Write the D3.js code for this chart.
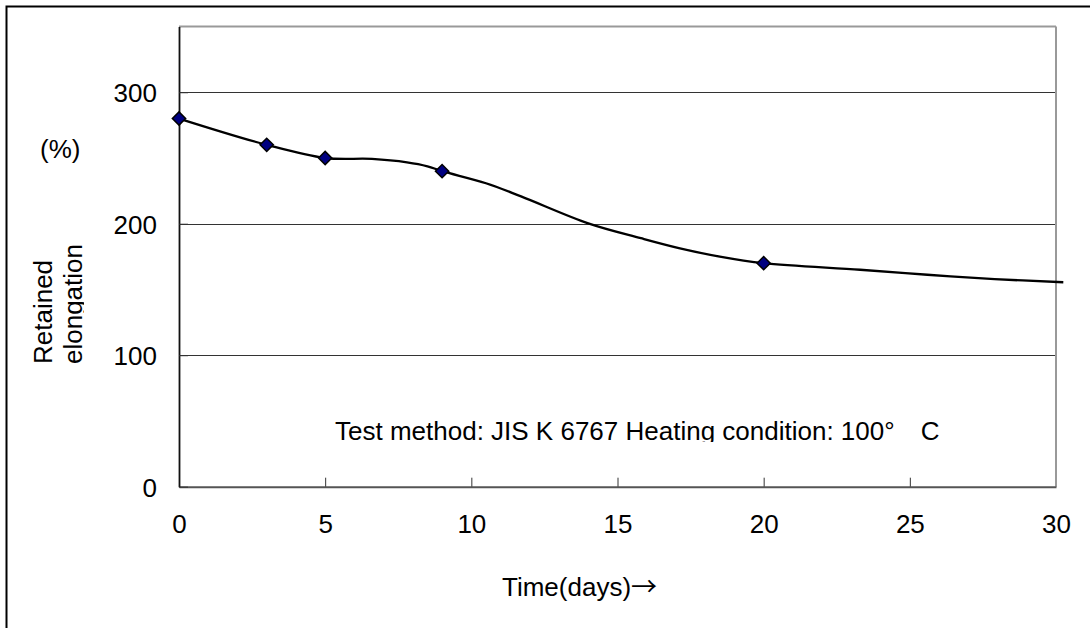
<!DOCTYPE html>
<html><head><meta charset="utf-8">
<script src="https://cdn.jsdelivr.net/npm/d3@7"></script>
<style>
html,body{margin:0;padding:0;background:#fff;}
svg{display:block;}
text{font-family:"Liberation Sans",Arial,"Noto Sans CJK JP",sans-serif;fill:#000;}
</style></head>
<body>
<svg id="chart" width="1090" height="628"></svg>
<script>
// ---- data ----
// measured points (markers)
const days = [0, 3, 5, 9, 20];
const elongation = [280, 260, 250, 240, 170];
// drawn smooth curve
const curveDays = [0, 3, 5, 6.6, 7.8, 8.5, 9, 10.5, 11.7, 14, 15.8, 17.1, 18.5, 20, 23.3, 25.6, 27.9, 30.25];
const curveValues = [280, 260, 250, 249.3, 246.7, 243.7, 240, 230.8, 220.8, 200.3, 189, 181.5, 175, 170, 165, 161.2, 157.9, 155.5];
const xTicks = [0, 5, 10, 15, 20, 25, 30];
const yTicks = [0, 100, 200, 300];
const xTitle = "Time(days)";
const xArrow = "\u2192";
const yTitleLines = ["Retained", "elongation"];
const yUnit = "(%)";
const note = "Test method: JIS K 6767 Heating condition: 100\u00B0\u3000C";

// ---- layout ----
const W = 1090, H = 628;
const L = 179, R = 1056, T = 26.5, B = 486.7;
const FS = 26;
const svg = d3.select("#chart");

const x = d3.scaleLinear().domain([0, 30]).range([L, R]);
const y = d3.scaleLinear().domain([0, 350]).range([B, T]);

// outer frame (only top and left edges fall inside the picture)
svg.append("rect").attr("x", 6.5).attr("y", 6.5).attr("width", W + 20).attr("height", H + 20)
  .attr("fill", "none").attr("stroke", "#000").attr("stroke-width", 2);

// gridlines
svg.append("g").selectAll("line").data(yTicks.filter(d => d > 0)).join("line")
  .attr("x1", L).attr("x2", R).attr("y1", d => Math.round(y(d)) + 0.5).attr("y2", d => Math.round(y(d)) + 0.5)
  .attr("stroke", "#333").attr("stroke-width", 1);

// plot top & right border (grey)
svg.append("line").attr("x1", L).attr("x2", R).attr("y1", T).attr("y2", T).attr("stroke", "#999").attr("stroke-width", 2);
svg.append("line").attr("x1", R).attr("x2", R).attr("y1", T).attr("y2", B).attr("stroke", "#999").attr("stroke-width", 2);

// x axis
const xAxis = d3.axisBottom(x).tickValues(xTicks).tickSizeInner(-9).tickSizeOuter(0).tickFormat(d3.format("d"));
const gx = svg.append("g").attr("transform", `translate(0,${B})`).call(xAxis);
gx.select(".domain").attr("stroke", "#555").attr("stroke-width", 2);
gx.selectAll(".tick line").attr("stroke", "#333").attr("stroke-width", 1)
  .attr("display", d => (d === 0 || d === 30) ? "none" : null);
gx.selectAll(".tick text").attr("font-size", FS).attr("y", 46).attr("dy", 0)
  .style("font-family", "'Liberation Sans',Arial,sans-serif");

// y axis
const yAxis = d3.axisLeft(y).tickValues(yTicks).tickSizeInner(-9).tickSizeOuter(0).tickFormat(d3.format("d"));
const gy = svg.append("g").attr("transform", `translate(${L},0)`).call(yAxis);
gy.select(".domain").attr("stroke", "#111").attr("stroke-width", 1.8);
gy.selectAll(".tick line").attr("stroke", "#333");
gy.selectAll(".tick text").attr("font-size", FS).attr("x", -22).attr("dy", "0.36em")
  .style("font-family", "'Liberation Sans',Arial,sans-serif");

// clip paths
const defs = svg.append("defs");
defs.append("clipPath").attr("id", "noteClip").append("rect")
  .attr("x", 300).attr("y", 380).attr("width", 720).attr("height", 62);
defs.append("clipPath").attr("id", "yClip").append("rect")
  .attr("x", 0).attr("y", 150).attr("width", 84).attr("height", 250);

// note text (bottom clipped as in the original)
svg.append("text").attr("clip-path", "url(#noteClip)")
  .attr("x", 335).attr("y", 440).attr("font-size", FS).text(note);

// smooth curve
const pts = curveDays.map((d, i) => [d, curveValues[i]]);
const line = d3.line().x(d => x(d[0])).y(d => y(d[1])).curve(d3.curveCatmullRom.alpha(0.5));
svg.append("path").datum(pts).attr("d", line).attr("fill", "none").attr("stroke", "#000").attr("stroke-width", 2.3);

// markers (diamonds)
const sym = d3.symbol().type(d3.symbolSquare).size(88);
svg.append("g").selectAll("path").data(days.map((d, i) => [d, elongation[i]])).join("path")
  .attr("d", sym)
  .attr("transform", d => `translate(${x(d[0])},${y(d[1])}) rotate(45)`)
  .attr("fill", "#000080").attr("stroke", "#000").attr("stroke-width", 1.5);

// axis titles
const xt = svg.append("text").attr("x", 502).attr("y", 596).attr("font-size", FS);
xt.append("tspan").text(xTitle);
xt.append("tspan").style("font-family", "'Noto Sans CJK JP',sans-serif").text(xArrow);
svg.append("text").attr("x", 40).attr("y", 158).attr("font-size", FS).text(yUnit);
const yt = svg.append("g").attr("clip-path", "url(#yClip)");
yTitleLines.forEach((t, i) => {
  yt.append("text").attr("transform", `translate(${52 + i * 30},364) rotate(-90)`)
    .attr("font-size", FS).text(t);
});
</script>
</body></html>
